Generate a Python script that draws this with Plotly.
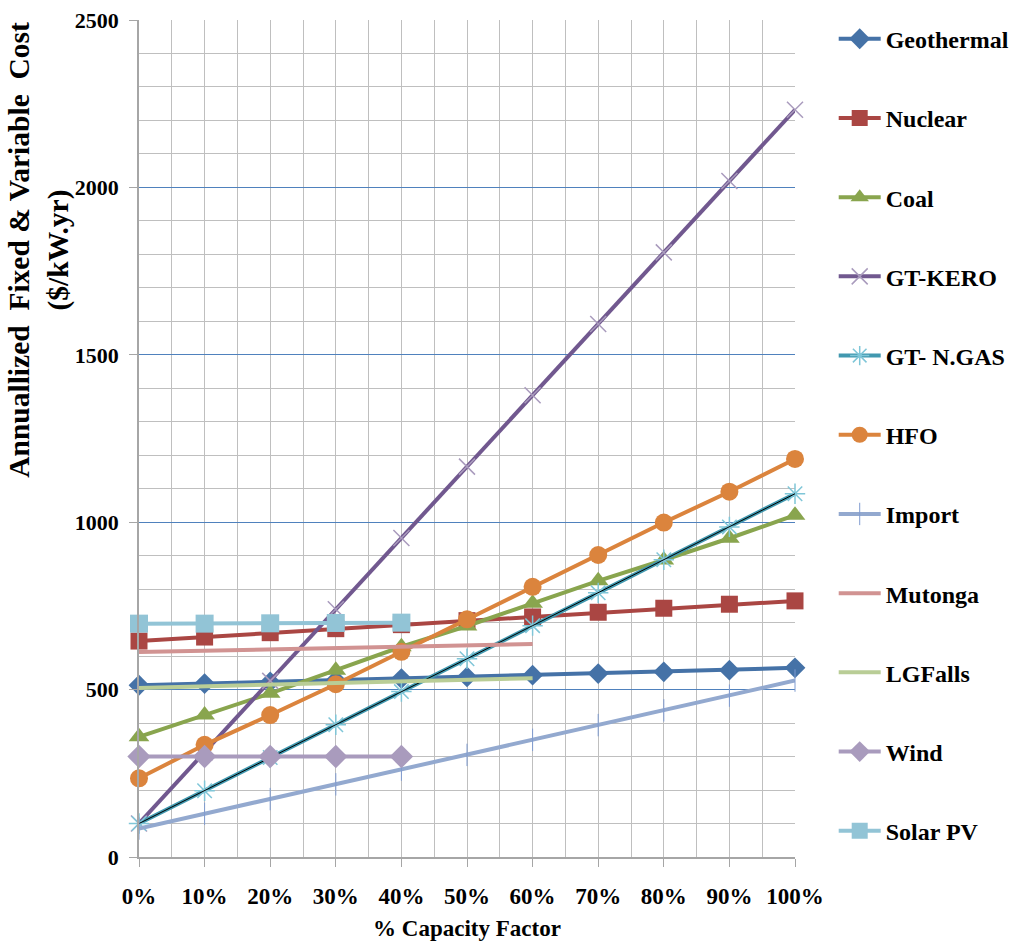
import plotly.graph_objects as go

cf = [0, 10, 20, 30, 40, 50, 60, 70, 80, 90, 100]
cf_60 = [0, 10, 20, 30, 40, 50, 60]
cf_40 = [0, 10, 20, 30, 40]

geothermal = [513, 518, 523, 528, 533, 538, 543, 548, 553, 558, 565]
nuclear = [645, 657, 670, 682, 694, 706, 717, 731, 743, 755, 765]
coal = [359, 424, 489, 558, 628, 690, 758, 825, 887, 952, 1021]
gt_kero = [100, 313, 526, 740, 953, 1166, 1379, 1592, 1806, 2019, 2232]
gt_ngas = [100, 198, 297, 395, 494, 592, 691, 789, 888, 986, 1085]
hfo = [235, 335, 424, 516, 613, 710, 807, 902, 999, 1091, 1189]
imp = [85, 129, 173, 217, 261, 305, 350, 394, 438, 482, 527]
mutonga = [612, 616, 620, 624, 628, 632, 636]
lgfalls = [505, 510, 514, 519, 524, 529, 534]
wind = [300, 300, 300, 300, 300]
solar = [697, 697, 698, 699, 700]

y_ticks = [0, 500, 1000, 1500, 2000, 2500]
y_minor = [v for v in range(0, 2501, 100) if v % 500 != 0]
x_ticks = cf

FONT = "Liberation Serif"

series = [
    ("Geothermal", cf, geothermal, "#4572A7", dict(symbol="diamond", size=16, color="#4572A7")),
    ("Nuclear", cf, nuclear, "#AA4643", dict(symbol="square", size=17, color="#AA4643")),
    ("Coal", cf, coal, "#89A54E", dict(symbol="triangle-up", size=18, color="#89A54E")),
    ("GT-KERO", cf, gt_kero, "#71588F", dict(symbol="x-thin-open", size=16, color="#A99BBD", line=dict(width=1.5, color="#A99BBD"))),
    ("GT- N.GAS", cf, gt_ngas, "#4198AF", dict(symbol="asterisk-open", size=17, color="#7FC6D8", line=dict(width=1.5, color="#7FC6D8"))),
    ("HFO", cf, hfo, "#DB843D", dict(symbol="circle", size=18, color="#DB843D")),
    ("Import", cf, imp, "#93A9CF", dict(symbol="line-ns-open", size=16, color="#7F9BD0", line=dict(width=1, color="#7F9BD0"))),
    ("Mutonga", cf_60, mutonga, "#D19392", None),
    ("LGFalls", cf_60, lgfalls, "#B9CD96", None),
    ("Wind", cf_40, wind, "#A99BBD", dict(symbol="diamond", size=18, color="#A99BBD")),
    ("Solar PV", cf_40, solar, "#92C4D6", dict(symbol="square", size=18, color="#92C4D6")),
]

fig = go.Figure()
for i, (name, xs, ys, col, mk) in enumerate(series):
    tr = dict(x=xs, y=ys, name=name, line=dict(color=col, width=4),
              legendgroup=f"g{i}", cliponaxis=False)
    if mk is None:
        tr["mode"] = "lines"
    else:
        tr["mode"] = "lines+markers"
        tr["marker"] = mk
    fig.add_trace(go.Scatter(**tr))
    if name == "GT- N.GAS":
        fig.add_trace(go.Scatter(x=xs, y=ys, mode="lines", line=dict(color="black", width=1),
                                 showlegend=False, hoverinfo="skip", legendgroup=f"g{i}"))

fig.update_layout(
    width=1014, height=945,
    margin=dict(l=139, r=219, t=20, b=88, autoexpand=False),
    paper_bgcolor="white", plot_bgcolor="white",
    font=dict(family=FONT, size=18, color="black"),
    showlegend=True,
    legend=dict(x=1.059, y=1.004, xanchor="left", yanchor="top",
                font=dict(family=FONT, size=24, color="black", weight="bold"),
                tracegroupgap=45, itemwidth=42, bgcolor="rgba(0,0,0,0)",
                maxheight=940),
    xaxis=dict(
        range=[0, 100], tickvals=x_ticks, ticktext=[f"{v}%" for v in x_ticks],
        showgrid=True, gridcolor="#BFBFBF", gridwidth=1,
        minor=dict(dtick=5, showgrid=True, gridcolor="#BFBFBF", ticks=""),
        ticks="outside", ticklen=8, tickcolor="#A6A6A6",
        showline=True, linecolor="#A6A6A6", linewidth=1.5,
        ticklabelstandoff=10, automargin=False,
        tickfont=dict(family=FONT, size=23, color="black", weight="bold"),
        title=dict(text="% Capacity Factor", standoff=12,
                   font=dict(family=FONT, size=23, color="black", weight="bold")),
        zeroline=False,
    ),
    yaxis=dict(
        range=[0, 2500], tickvals=y_ticks,
        showgrid=True, gridcolor="#4F81BD", gridwidth=1,
        minor=dict(tickvals=y_minor, showgrid=True, gridcolor="#BFBFBF", ticks=""),
        ticks="outside", ticklen=8, tickcolor="#A6A6A6",
        showline=True, linecolor="#A6A6A6", linewidth=1.5,
        ticklabelstandoff=6, automargin=False,
        tickfont=dict(family=FONT, size=22, color="black", weight="bold"),
        zeroline=False,
    ),
    annotations=[dict(
        text="Annuallized  Fixed & Variable  Cost<br>($/kW.yr)",
        xref="paper", yref="paper", x=-0.153, y=0.725,
        xanchor="center", yanchor="middle", textangle=-90, showarrow=False,
        font=dict(family=FONT, size=29.5, color="black", weight="bold"),
    )],
)

fig.write_html(
    "out.html",
    config={"displayModeBar": False},
    post_script="document.body.style.margin='0';document.body.style.overflow='hidden';",
)
